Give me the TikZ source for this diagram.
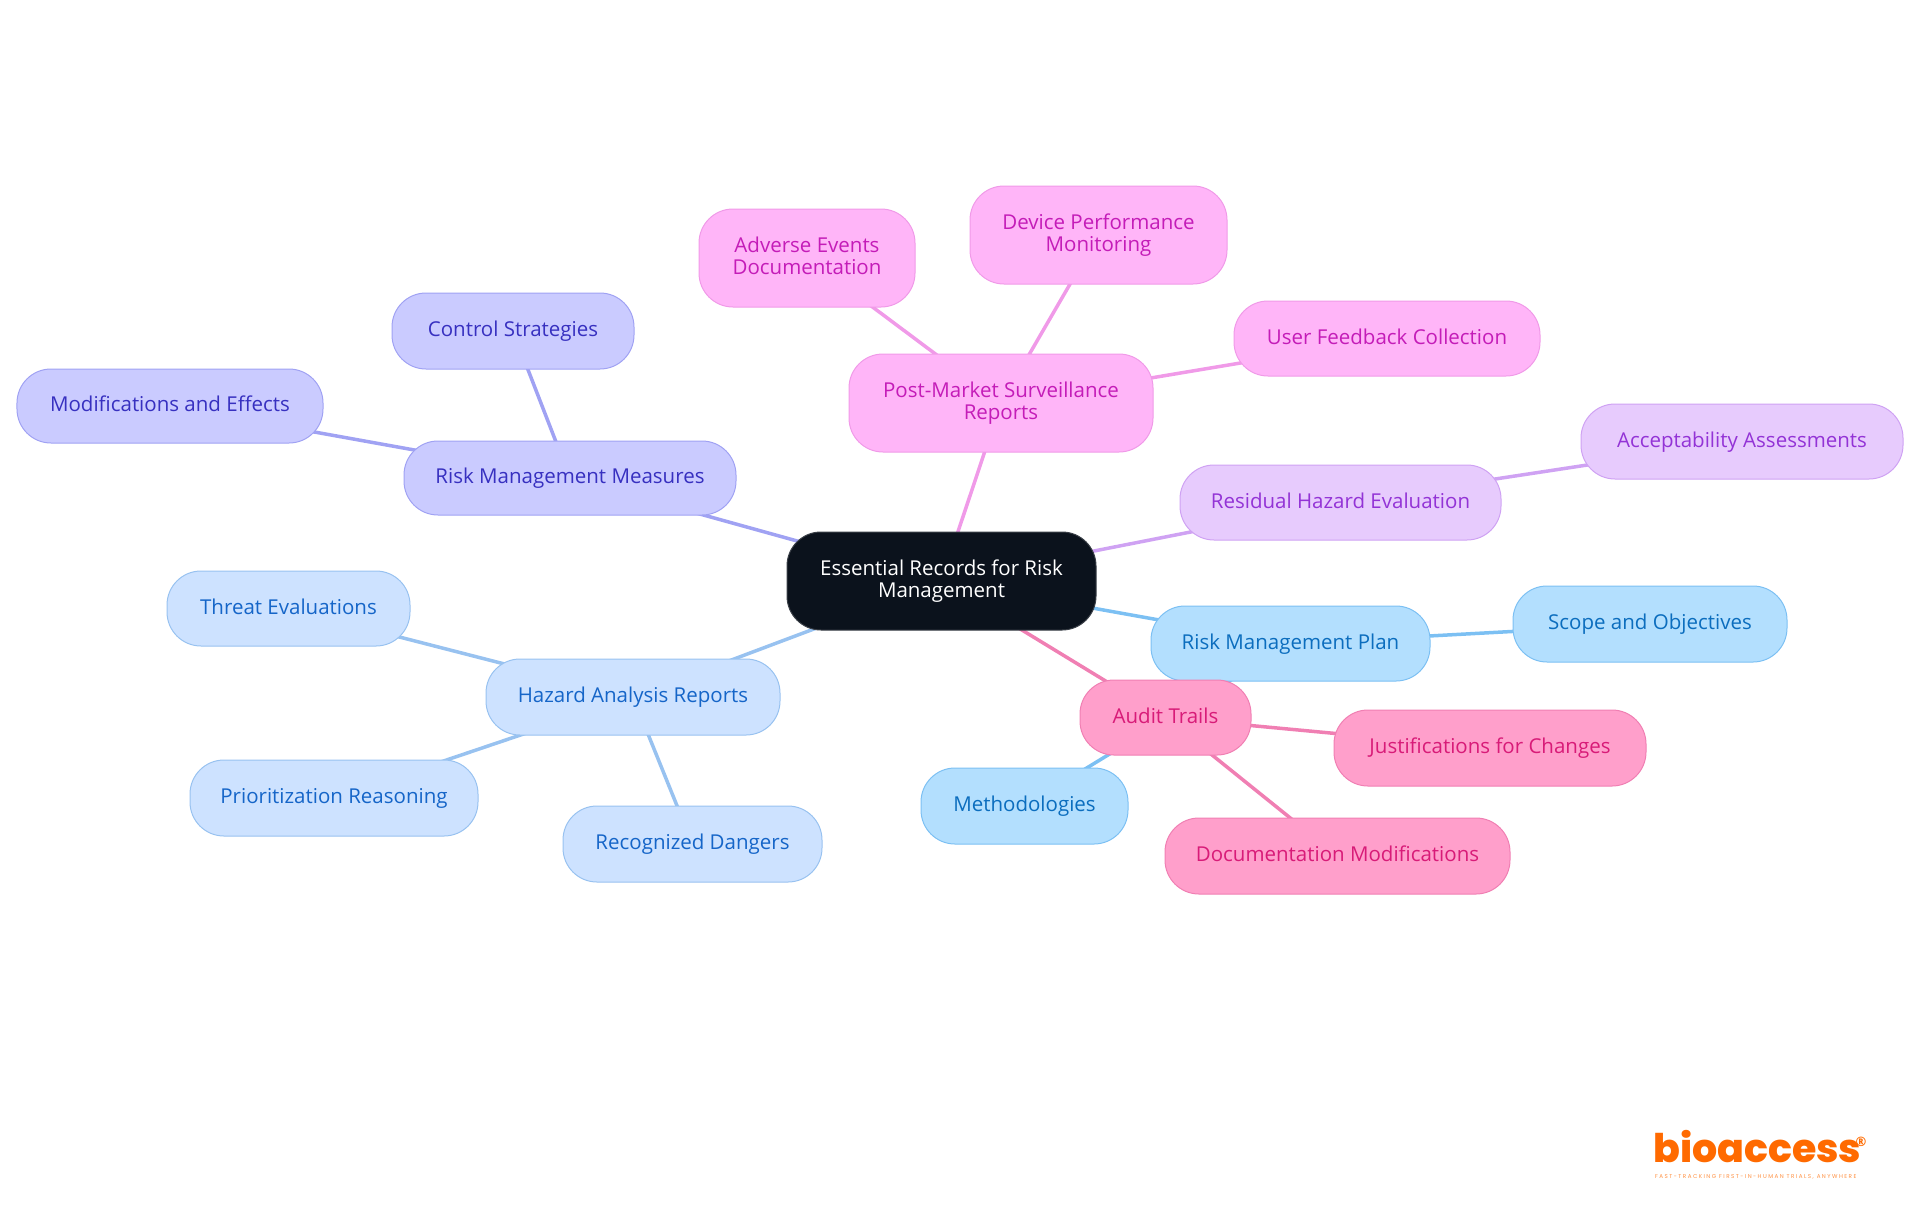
\documentclass[tikz,border=0pt]{standalone}
\usepackage{fontspec}
\setmainfont{Open Sans}
\newfontfamily\logofont{Poppins ExtraBold}
\newfontfamily\logotagfont{Poppins}[LetterSpace=26]
\definecolor{rootfill}{HTML}{0B121C}
\definecolor{rootline}{HTML}{3A3F47}
\definecolor{bfill}{HTML}{B3DFFE}\definecolor{bline}{HTML}{7CC0F3}\definecolor{btext}{HTML}{0B6DBE}
\definecolor{pfill}{HTML}{FF9FCB}\definecolor{pline}{HTML}{F07FB3}\definecolor{ptext}{HTML}{D81B78}
\definecolor{vfill}{HTML}{E7CBFD}\definecolor{vline}{HTML}{CFA2F3}\definecolor{vtext}{HTML}{9333D6}
\definecolor{mfill}{HTML}{FFB5F8}\definecolor{mline}{HTML}{F09AE8}\definecolor{mtext}{HTML}{C41CB8}
\definecolor{ifill}{HTML}{CACBFF}\definecolor{iline}{HTML}{A0A2F3}\definecolor{itext}{HTML}{3730C0}
\definecolor{lfill}{HTML}{CDE2FF}\definecolor{lline}{HTML}{98C2F0}\definecolor{ltext}{HTML}{1565C8}
\definecolor{logoorange}{HTML}{FF6A00}
\newcommand{\lsh}{\vrule height 16bp depth 0bp width 0pt}
\newcommand{\lsd}{\vrule height 0bp depth 4.6bp width 0pt}
\tikzset{
  x=1bp,y=-1bp,
  mm/.style={rounded corners=34bp,line width=1bp,align=center,inner sep=0pt,font=\fontsize{20.5bp}{22.5bp}\selectfont},
  rootn/.style={mm,fill=rootfill,draw=rootline,text=white},
  bn/.style={mm,fill=bfill,draw=bline,text=btext},
  pn/.style={mm,fill=pfill,draw=pline,text=ptext},
  vn/.style={mm,fill=vfill,draw=vline,text=vtext},
  gn/.style={mm,fill=mfill,draw=mline,text=mtext},
  inode/.style={mm,fill=ifill,draw=iline,text=itext},
  ln/.style={mm,fill=lfill,draw=lline,text=ltext},
  conn/.style={line width=3.5bp},
}
\newcommand{\mnode}[7]{% name x1 y1 x2 y2 style text
  \pgfmathsetmacro{\cxx}{(#2+#4)/2}\pgfmathsetmacro{\cyy}{(#3+#5)/2}
  \pgfmathsetmacro{\www}{#4-#2}\pgfmathsetmacro{\hhh}{#5-#3}
  \node[#6,minimum width=\www bp,minimum height=\hhh bp] (#1) at (\cxx,\cyy) {\lsh #7\lsd};}
\newcommand{\mcoord}[5]{%
  \pgfmathsetmacro{\cxx}{(#2+#4)/2}\pgfmathsetmacro{\cyy}{(#3+#5)/2}
  \coordinate (#1c) at (\cxx,\cyy);}
\begin{document}
\begin{tikzpicture}
\useasboundingbox (0,0) rectangle (1920,1215);
% node centres, so that the connectors can lie beneath the nodes
\mcoord{root}{787}{532}{1096}{630}
\mcoord{rmm}{404}{441}{736}{515}
\mcoord{cs}{392}{293}{634}{369}
\mcoord{mae}{17}{369}{323}{443}
\mcoord{har}{486}{659}{780}{735}
\mcoord{te}{167}{571}{410}{646}
\mcoord{pr}{190}{760}{478}{836}
\mcoord{rd}{563}{806}{822}{882}
\mcoord{pms}{849}{354}{1153}{452}
\mcoord{ae}{699}{209}{915}{307}
\mcoord{dp}{970}{186}{1227}{284}
\mcoord{uf}{1234}{301}{1540}{376}
\mcoord{rh}{1180}{465}{1501}{540}
\mcoord{aa}{1581}{404}{1903}{479}
\mcoord{rp}{1151}{606}{1430}{681}
\mcoord{so}{1513}{586}{1787}{662}
\mcoord{me}{921}{768}{1128}{844}
\mcoord{at}{1080}{680}{1251}{755}
\mcoord{jc}{1334}{710}{1646}{786}
\mcoord{dm}{1165}{818}{1510}{894}
\draw[conn,iline] (rootc)--(rmmc) (rmmc)--(csc) (rmmc)--(maec);
\draw[conn,lline] (rootc)--(harc) (harc)--(tec) (harc)--(prc) (harc)--(rdc);
\draw[conn,mline] (rootc)--(pmsc) (pmsc)--(aec) (pmsc)--(dpc) (pmsc)--(ufc);
\draw[conn,vline] (rootc)--(rhc) (rhc)--(aac);
\draw[conn,bline] (rootc)--(rpc) (rpc)--(soc) (rpc)--(mec);
\draw[conn,pline] (rootc)--(atc) (atc)--(jcc) (atc)--(dmc);
% nodes
\mnode{rmm}{404}{441}{736}{515}{inode}{Risk Management Measures}
\mnode{cs}{392}{293}{634}{369}{inode}{Control Strategies}
\mnode{mae}{17}{369}{323}{443}{inode}{Modifications and Effects}
\mnode{har}{486}{659}{780}{735}{ln}{Hazard Analysis Reports}
\mnode{te}{167}{571}{410}{646}{ln}{Threat Evaluations}
\mnode{pr}{190}{760}{478}{836}{ln}{Prioritization Reasoning}
\mnode{rd}{563}{806}{822}{882}{ln}{Recognized Dangers}
\mnode{pms}{849}{354}{1153}{452}{gn}{Post-Market Surveillance\\Reports}
\mnode{ae}{699}{209}{915}{307}{gn}{Adverse Events\\Documentation}
\mnode{dp}{970}{186}{1227}{284}{gn}{Device Performance\\Monitoring}
\mnode{uf}{1234}{301}{1540}{376}{gn}{User Feedback Collection}
\mnode{rh}{1180}{465}{1501}{540}{vn}{Residual Hazard Evaluation}
\mnode{aa}{1581}{404}{1903}{479}{vn}{Acceptability Assessments}
\mnode{rp}{1151}{606}{1430}{681}{bn}{Risk Management Plan}
\mnode{so}{1513}{586}{1787}{662}{bn}{Scope and Objectives}
\mnode{me}{921}{768}{1128}{844}{bn}{Methodologies}
\mnode{at}{1080}{680}{1251}{755}{pn}{Audit Trails}
\mnode{jc}{1334}{710}{1646}{786}{pn}{Justifications for Changes}
\mnode{dm}{1165}{818}{1510}{894}{pn}{Documentation Modifications}
\mnode{root}{787}{532}{1096}{630}{rootn}{Essential Records for Risk\\Management}
% logo
\node[text=logoorange,font=\logofont\fontsize{39.5bp}{39.5bp}\selectfont,inner sep=0pt,anchor=base west] (logo) at (1653,1162) {bioaccess};
\node[text=logoorange,font=\bfseries\fontsize{13bp}{13bp}\selectfont,inner sep=0pt] (logor) at (1861,1142) {®};
\node[text=logoorange,font=\logotagfont\fontsize{5.6bp}{6bp}\selectfont,inner sep=0pt,anchor=west,opacity=.75] (logot) at (1655,1177) {FAST-TRACKING FIRST-IN-HUMAN TRIALS, ANYWHERE};
\end{tikzpicture}
\end{document}
